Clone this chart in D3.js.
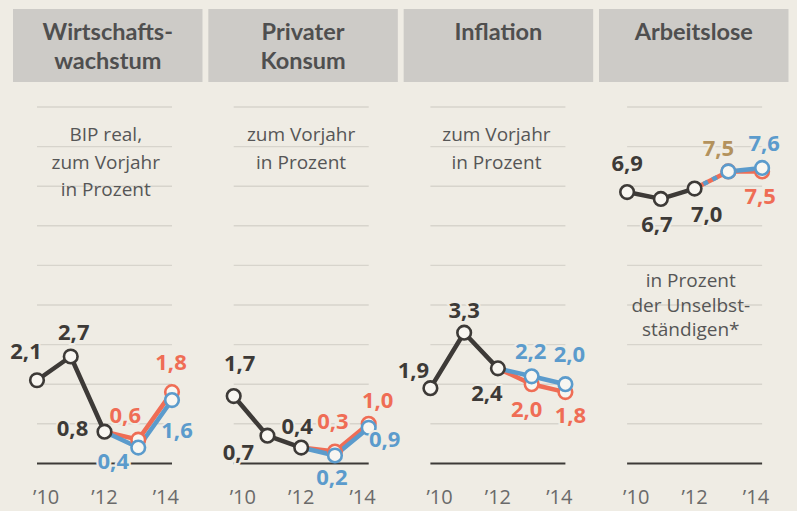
<!DOCTYPE html>
<html>
<head>
<meta charset="utf-8">
<script src="https://cdn.jsdelivr.net/npm/d3@7/dist/d3.min.js"></script>
<style>
  html, body { margin: 0; padding: 0; background: #efece4; }
  svg { display: block; }
</style>
</head>
<body>
<svg id="chart" width="797" height="511"></svg>
<script>
// ---------- data ----------
const years = [2010, 2011, 2012, 2013, 2014];
const actualYears = [2010, 2011, 2012];
const titles = [["Wirtschafts-", "wachstum"], ["Privater", "Konsum"], ["Inflation"], ["Arbeitslose"]];
const subtitles = [["BIP real,", "zum Vorjahr", "in Prozent"], ["zum Vorjahr", "in Prozent"], ["zum Vorjahr", "in Prozent"], ["in Prozent", "der Unselbst-", "ständigen*"]];
const actualValues = [[2.1, 2.7, 0.8], [1.7, 0.7, 0.4], [1.9, 3.3, 2.4], [6.9, 6.7, 7.0]];
const blueValues = [[0.4, 1.6], [0.2, 0.9], [2.2, 2.0], [7.5, 7.6]];
const redValues = [[0.6, 1.8], [0.3, 1.0], [2.0, 1.8], [7.5, 7.5]];
const tickYears = [2010, 2012, 2014];
const tickLabels = ["’10", "’12", "’14"];

// ---------- layout (label offsets relative to their point) ----------
const actualLabelOffsets = [[[-11, -29], [3, -24], [-32, -4]], [[6, -33], [-29, 16], [-4, -21]], [[-17, -18], [0, -23], [-11, 25]], [[0, -29], [-4, 25], [12, 25]]];
const blueLabelOffsets = [[[-25, 14], [5, 30]], [[-3, 22], [16, 11]], [[-1, -25], [4, -30]], [[-10, -23], [2, -25]]];
const redLabelOffsets = [[[-13, -25], [-1, -30]], [[-2, -30], [9, -24]], [[-5, 25], [5, 23]], [[-10, -23], [-2, 25]]];

const C = {
  bg: "#efece4", box: "#cdcbc7", title: "#4f4f4f", sub: "#565656", grid: "#d7d4cc",
  axis: "#3d3a37", black: "#3d3a37", blue: "#5b9bcc", red: "#ef6d55", tan: "#b3925d", tick: "#6a6a6a"
};
const FONT = "'Open Sans', 'Noto Sans', sans-serif";
const TITLE_FONT = "Lato, 'Open Sans', sans-serif";

const svg = d3.select("#chart");
svg.append("rect").attr("width", 797).attr("height", 511).attr("fill", C.bg);

const yGrid = d3.scaleLinear().domain([0, 9]).range([463.4, 107]);
const yUnemp = d3.scaleLinear().domain([4, 9]).range([291.8, 119.8]);
const boxScale = d3.scaleLinear().domain([0, 3]).range([13, 599]);

titles.forEach((t, i) => {
  const g = svg.append("g");
  const x = d3.scaleLinear().domain([2010, 2014]).range([37 + i * 196.7, 37 + i * 196.7 + 135]);
  const y = i === 3 ? yUnemp : yGrid;
  const bx = boxScale(i), bw = 189.5, bc = bx + bw / 2;

  // header box + title
  g.append("rect").attr("x", bx).attr("y", 9).attr("width", bw).attr("height", 73).attr("fill", C.box);
  g.append("text").attr("text-anchor", "middle").attr("font-family", TITLE_FONT).attr("font-weight", 700)
    .attr("font-size", 23.5).attr("fill", C.title)
    .selectAll("tspan").data(t).join("tspan")
    .attr("x", bc).attr("y", (d, k) => 40 + k * 28.5).text(d => d);

  // gridlines
  g.selectAll("line.grid").data(d3.range(1, 10)).join("line")
    .attr("x1", x(2010)).attr("x2", x(2014))
    .attr("y1", d => yGrid(d)).attr("y2", d => yGrid(d))
    .attr("stroke", C.grid).attr("stroke-width", 1.4);

  // subtitles
  const subTop = i === 3 ? 287 : 141, subStep = i === 3 ? 24.5 : 27.5;
  g.append("text").attr("text-anchor", "middle").attr("font-family", FONT).attr("font-size", 19)
    .attr("fill", C.sub)
    .selectAll("tspan").data(subtitles[i]).join("tspan")
    .attr("x", i === 3 ? bc - 3 : bc - 2).attr("y", (d, k) => subTop + k * subStep).text(d => d);

  // axis line
  g.append("line").attr("x1", x(2010)).attr("x2", x(2014))
    .attr("y1", yGrid(0)).attr("y2", yGrid(0))
    .attr("stroke", C.axis).attr("stroke-width", 2);

  // tick labels
  g.selectAll("text.tick").data(tickYears).join("text")
    .attr("x", (d, k) => k === 0 ? x(d) - 4 : k === 2 ? x(d) + 7 : x(d))
    .attr("y", 504)
    .attr("text-anchor", (d, k) => k === 0 ? "start" : k === 2 ? "end" : "middle")
    .attr("font-family", FONT).attr("font-size", 20).attr("fill", C.tick)
    .text((d, k) => tickLabels[k]);

  const line = d3.line().x(d => x(d[0])).y(d => y(d[1]));
  const last = actualValues[i][2];
  const redPts = [[2012, last], [2013, redValues[i][0]], [2014, redValues[i][1]]];
  const bluePts = [[2012, last], [2013, blueValues[i][0]], [2014, blueValues[i][1]]];
  const same = blueValues[i][0] === redValues[i][0];

  // forecast lines
  g.append("path").attr("d", line(redPts)).attr("fill", "none")
    .attr("stroke", C.red).attr("stroke-width", 4.5).attr("stroke-linejoin", "round");
  if (same) {
    g.append("path").attr("d", line(bluePts.slice(0, 2))).attr("fill", "none")
      .attr("stroke", C.blue).attr("stroke-width", 4.5).attr("stroke-dasharray", "5,5");
    g.append("path").attr("d", line(bluePts.slice(1))).attr("fill", "none")
      .attr("stroke", C.blue).attr("stroke-width", 4.5).attr("stroke-linejoin", "round");
  } else {
    g.append("path").attr("d", line(bluePts)).attr("fill", "none")
      .attr("stroke", C.blue).attr("stroke-width", 4.5).attr("stroke-linejoin", "round");
  }

  // actual line
  const actPts = actualYears.map((yr, k) => [yr, actualValues[i][k]]);
  g.append("path").attr("d", line(actPts)).attr("fill", "none")
    .attr("stroke", C.black).attr("stroke-width", 4.5).attr("stroke-linejoin", "round");

  // circles
  const circ = (pts, col) => g.selectAll(null).data(pts).join("circle")
    .attr("cx", d => x(d[0])).attr("cy", d => y(d[1])).attr("r", 6.8)
    .attr("fill", "#f8f6f1").attr("stroke", col).attr("stroke-width", 2.6);
  circ(redPts.slice(1), C.red);
  circ(bluePts.slice(1), C.blue);
  circ(actPts, C.black);

  // value labels
  const fmt = v => d3.format(".1f")(v).replace(".", ",");
  const lab = (pts, offs, colFn) => g.selectAll(null).data(pts).join("text")
    .attr("x", (d, k) => x(d[0]) + offs[k][0]).attr("y", (d, k) => y(d[1]) + offs[k][1])
    .attr("dy", "0.36em").attr("text-anchor", "middle")
    .attr("font-family", FONT).attr("font-weight", 700).attr("font-size", 22)
    .attr("fill", colFn)
    .attr("stroke", C.bg).attr("stroke-width", 4).attr("paint-order", "stroke")
    .text(d => fmt(d[1]));
  lab(actPts, actualLabelOffsets[i], () => C.black);
  lab(bluePts.slice(1), blueLabelOffsets[i], (d, k) => (k === 0 && same) ? C.tan : C.blue);
  lab(same ? redPts.slice(2) : redPts.slice(1), same ? redLabelOffsets[i].slice(1) : redLabelOffsets[i], () => C.red);
});
</script>
</body>
</html>
